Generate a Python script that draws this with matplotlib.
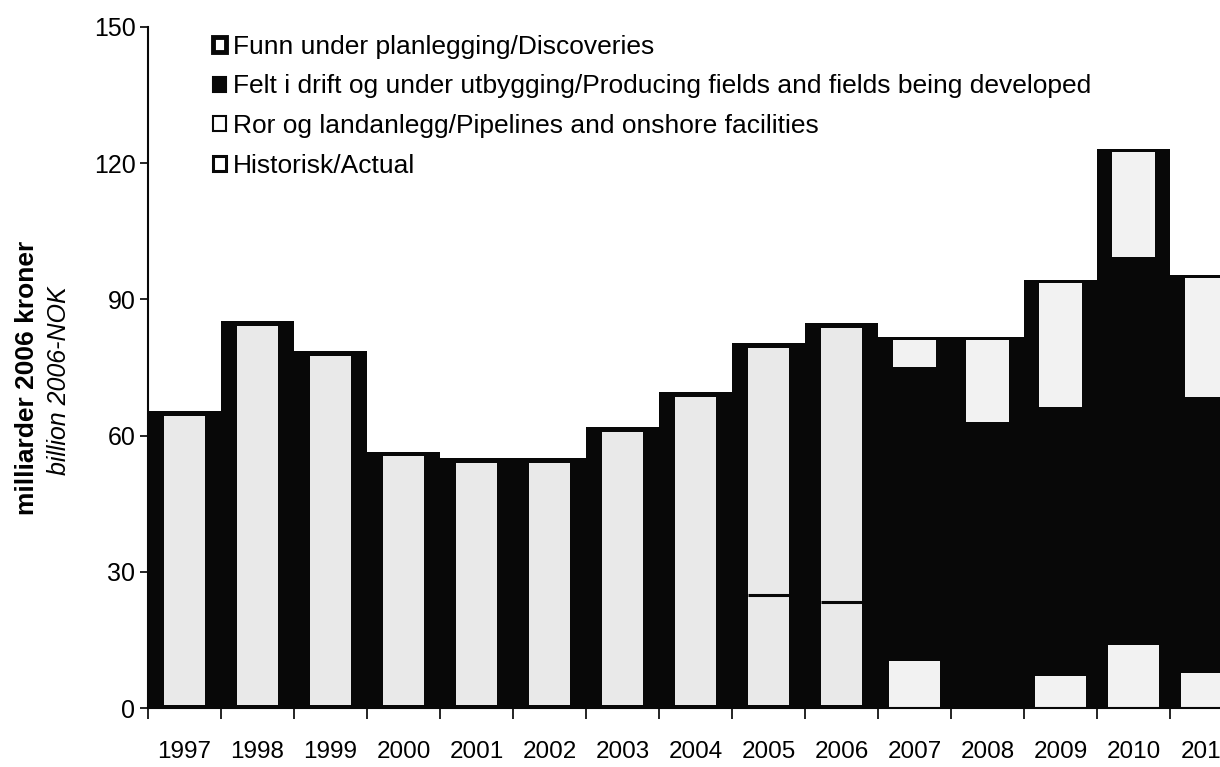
import numpy as np
import matplotlib
matplotlib.use("Agg")
import matplotlib.pyplot as plt
from matplotlib.patches import Patch

plt.rcParams['font.family'] = ['Liberation Sans', 'DejaVu Sans']

years = ['1997', '1998', '1999', '2000', '2001', '2002', '2003', '2004',
         '2005', '2006', '2007', '2008', '2009', '2010', '2011']

# Historical / actual (1997-2006)
hist_total = [65.4, 85.2, 78.6, 56.4, 55.0, 55.0, 61.9, 69.6, 80.4, 84.8]
hist_split = [np.nan] * 8 + [24.9, 23.3]

# Forecast (2007-2011)
pipelines = [10.3, 0.0, 7.0, 13.9, 7.7]
fields = [64.8, 63.0, 59.3, 85.4, 60.8]
discoveries = [6.6, 18.7, 28.0, 23.8, 26.9]

legend_labels = ['Funn under planlegging/Discoveries',
                 'Felt i drift og under utbygging/Producing fields and fields being developed',
                 'Ror og landanlegg/Pipelines and onshore facilities',
                 'Historisk/Actual']

BLACK = '#080808'
WHITE = '#f2f2f2'
HWHITE = '#e9e9e9'

W, H = 1220, 767
fig = plt.figure(figsize=(W / 100, H / 100), dpi=100)
ax = fig.add_axes([148 / W, 59 / H, 1095 / W, 681 / H])

n_hist = len(hist_total)
xh = np.arange(n_hist)
xf = np.arange(n_hist, len(years))
ht = np.array(hist_total)
pp = np.array(pipelines)
fd = np.array(fields)
dc = np.array(discoveries)

# Historical: black frame with light inner column
ax.bar(xh, ht, width=1.0, color=BLACK, linewidth=0)
ax.bar(xh, ht - 1.6, bottom=0.6, width=0.56, color=HWHITE, linewidth=0)
ax.hlines(hist_split, xh - 0.28, xh + 0.28, color=BLACK, linewidth=2.2)

# Forecast stacks
tot = pp + fd + dc
ax.bar(xf, tot, width=1.0, color=BLACK, linewidth=0)
ax.bar(xf, pp, width=0.7, color=WHITE, linewidth=0)
ax.bar(xf, fd, bottom=pp, width=1.0, color=BLACK, linewidth=0)
ax.bar(xf, dc - 0.7, bottom=pp + fd, width=0.6, color=WHITE, linewidth=0)

ax.set_xlim(-0.5, len(years) - 0.5)
ax.set_ylim(0, 150)
ax.set_yticks([0, 30, 60, 90, 120, 150])
ax.tick_params(axis='y', labelsize=18, length=6, width=1.2, pad=3, direction='out')
ax.set_xticks(np.arange(len(years)))
ax.set_xticklabels(years, fontsize=17.5)
ax.set_xticks(np.arange(len(years) + 1) - 0.5, minor=True)
ax.tick_params(axis='x', which='major', length=0, pad=24)
ax.tick_params(axis='x', which='minor', length=8, width=1.2, direction='out')

for s in ['top', 'right']:
    ax.spines[s].set_visible(False)
for s in ['left', 'bottom']:
    ax.spines[s].set_linewidth(1.5)
    ax.spines[s].set_color(BLACK)

handles = [Patch(facecolor='white', edgecolor=BLACK, linewidth=3.5),
           Patch(facecolor=BLACK, edgecolor=BLACK, linewidth=1.5),
           Patch(facecolor='white', edgecolor=BLACK, linewidth=1.5),
           Patch(facecolor='white', edgecolor=BLACK, linewidth=2.2)]
leg = ax.legend(handles, legend_labels, loc='upper left',
                bbox_to_anchor=(0.045, 1.012), frameon=False,
                fontsize=19, handlelength=0.5, handleheight=0.5,
                handletextpad=0.25, labelspacing=0.6, borderaxespad=0.2)

fig.text(27 / W, 1 - 378 / H, 'milliarder 2006 kroner', rotation=90,
         ha='center', va='center', fontsize=19, fontweight='bold')
fig.text(59 / W, 1 - 381 / H, 'billion 2006-NOK', rotation=90,
         ha='center', va='center', fontsize=18, style='italic')

fig.savefig('out.png', dpi=100)
